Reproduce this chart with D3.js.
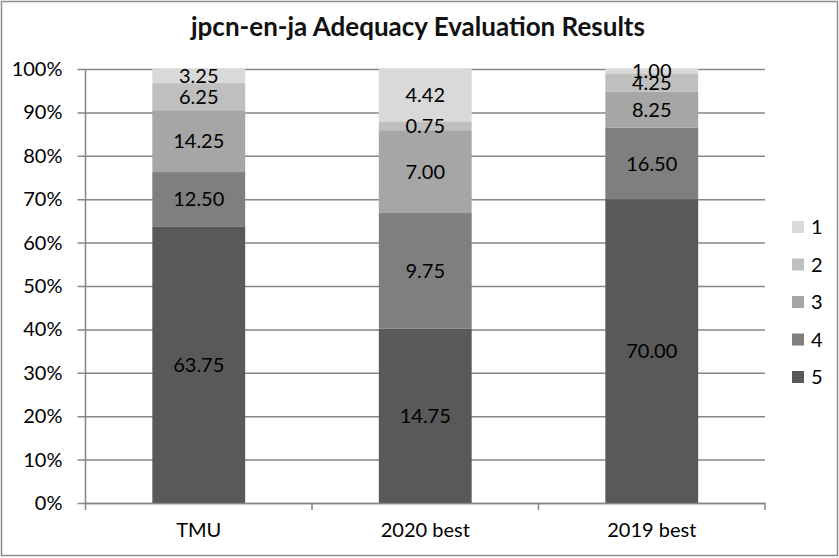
<!DOCTYPE html>
<html>
<head>
<meta charset="utf-8">
<script src="https://cdn.jsdelivr.net/npm/d3@7"></script>
<style>
  body { margin: 0; background: #fff; }
  svg { display: block; font-family: Lato, "Open Sans", sans-serif; }
</style>
</head>
<body>
<svg id="chart" width="839" height="558"></svg>
<script>
// chart data
var categories = ['TMU', '2020 best', '2019 best'];
var scores = ['1', '2', '3', '4', '5'];
var score1 = [3.25, 4.42, 1.00];
var score2 = [6.25, 0.75, 4.25];
var score3 = [14.25, 7.00, 8.25];
var score4 = [12.50, 9.75, 16.50];
var score5 = [63.75, 14.75, 70.00];
var yTicks = [0, 0.1, 0.2, 0.3, 0.4, 0.5, 0.6, 0.7, 0.8, 0.9, 1];

var colors = { '1': '#d9d9d9', '2': '#bfbfbf', '3': '#a6a6a6', '4': '#7f7f7f', '5': '#595959' };

var svg = d3.select('#chart');
var margin = { left: 85.5, right: 74, top: 69, bottom: 55 };
var width = 839, height = 558;

// build rows for the stack
var seriesValues = { '1': score1, '2': score2, '3': score3, '4': score4, '5': score5 };
var rows = categories.map(function (c, i) {
    var r = { cat: c };
    scores.forEach(function (s) { r[s] = seriesValues[s][i]; });
    return r;
});
// stack from 5 (bottom) to 1 (top), normalized to 100%
var stack = d3.stack()
    .keys(scores.slice().reverse())
    .offset(d3.stackOffsetExpand);
var layers = stack(rows);

var x = d3.scaleBand()
    .domain(categories)
    .range([margin.left, width - margin.right])
    .paddingInner(0.59)
    .paddingOuter(0.295);
var y = d3.scaleLinear().domain([0, 1]).range([height - margin.bottom, margin.top]);

// outer frame
svg.append('rect')
    .attr('x', 1.5).attr('y', 1.5)
    .attr('width', width - 3).attr('height', height - 4)
    .attr('fill', '#fff').attr('stroke', '#8c8c8c').attr('stroke-width', 1.5);

// title
svg.append('text')
    .attr('x', 418).attr('y', 36)
    .attr('text-anchor', 'middle')
    .attr('font-size', 26).attr('font-weight', 'bold')
    .attr('fill', '#111')
    .text('jpcn-en-ja Adequacy Evaluation Results');

// gridlines + y axis
var yAxis = d3.axisLeft(y)
    .tickValues(yTicks)
    .tickFormat(d3.format('.0%'))
    .tickSize(-(width - margin.right - margin.left))
    .tickPadding(23);
var gy = svg.append('g')
    .attr('transform', 'translate(' + margin.left + ',0)')
    .call(yAxis);
gy.select('.domain').remove();
gy.selectAll('.tick line')
    .attr('x1', -8)
    .attr('stroke', '#868686').attr('stroke-width', 1.5);
gy.selectAll('.tick text')
    .attr('font-size', 20).attr('fill', '#000')
    .attr('font-family', 'Lato, sans-serif');

// vertical axis line
svg.append('line')
    .attr('x1', margin.left).attr('x2', margin.left)
    .attr('y1', y(1)).attr('y2', y(0))
    .attr('stroke', '#868686').attr('stroke-width', 1.5);

// bars
var layerG = svg.append('g').selectAll('g')
    .data(layers)
    .enter().append('g')
    .attr('fill', function (d) { return colors[d.key]; });
layerG.selectAll('rect')
    .data(function (d) { return d; })
    .enter().append('rect')
    .attr('x', function (d) { return x(d.data.cat); })
    .attr('width', x.bandwidth())
    .attr('y', function (d) { return y(d[1]); })
    .attr('height', function (d) { return y(d[0]) - y(d[1]); });

// data labels
var labelG = svg.append('g');
layers.forEach(function (layer) {
    layer.forEach(function (d) {
        labelG.append('text')
            .attr('x', x(d.data.cat) + x.bandwidth() / 2)
            .attr('y', (y(d[0]) + y(d[1])) / 2)
            .attr('dy', '0.36em')
            .attr('text-anchor', 'middle')
            .attr('font-size', 20)
            .attr('fill', '#000')
            .text(d3.format('.2f')(d.data[layer.key]));
    });
});

// x axis
var xAxis = d3.axisBottom(x).tickSize(0).tickPadding(20);
var gx = svg.append('g')
    .attr('transform', 'translate(0,' + y(0) + ')')
    .call(xAxis);
gx.select('.domain').attr('stroke', '#868686').attr('stroke-width', 1.5);
gx.selectAll('.tick text')
    .attr('font-size', 20).attr('fill', '#000')
    .attr('font-family', 'Lato, sans-serif');
// category separators
var edges = categories.map(function (c) { return x(c) - x.step() * x.paddingInner() / 2; });
edges.push(width - margin.right);
gx.selectAll('.sep')
    .data(edges)
    .enter().append('line')
    .attr('x1', function (d) { return d; }).attr('x2', function (d) { return d; })
    .attr('y1', 0).attr('y2', 7)
    .attr('stroke', '#868686').attr('stroke-width', 1.5);

// legend
var legend = svg.append('g').attr('transform', 'translate(792,221)');
var li = legend.selectAll('g')
    .data(scores)
    .enter().append('g')
    .attr('transform', function (d, i) { return 'translate(0,' + i * 37.5 + ')'; });
li.append('rect')
    .attr('width', 12).attr('height', 12)
    .attr('fill', function (d) { return colors[d]; });
li.append('text')
    .attr('x', 19).attr('y', 6).attr('dy', '0.36em')
    .attr('font-size', 20).attr('fill', '#000')
    .text(function (d) { return d; });
</script>
</body>
</html>
